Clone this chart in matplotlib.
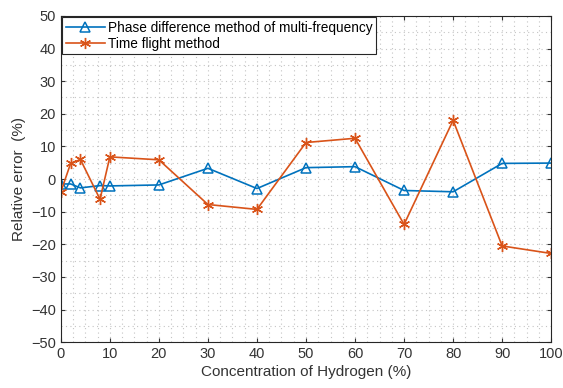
import numpy as np
import matplotlib
matplotlib.use("Agg")
import matplotlib.pyplot as plt
from matplotlib.ticker import MultipleLocator

plt.rcParams['font.family'] = ['Liberation Sans', 'DejaVu Sans']

# concentration (%) and relative error (%)
conc = [0, 2, 4, 8, 10, 20, 30, 40, 50, 60, 70, 80, 90, 100]
phase_err = [-1.5, -1.5, -2.7, -2.0, -2.1, -1.8, 3.3, -2.9, 3.5, 3.8, -3.5, -3.9, 4.8, 4.9]
tof_err = [-4.0, 4.8, 6.0, -6.2, 6.8, 5.9, -7.8, -9.3, 11.2, 12.5, -13.9, 18.0, -20.5, -22.8]

xticks = np.arange(0, 101, 10)
yticks = np.arange(-50, 51, 10)

blue = '#0072BD'
orange = '#D95319'
txt = '#333333'

fig = plt.figure(figsize=(5.63, 3.88), dpi=100)
ax = fig.add_axes([0.108, 0.118, 0.871, 0.841])

ax.plot(conc, phase_err, color=blue, lw=1.2, marker='^', ms=7, mfc='none', mew=1.1,
        label='Phase difference method of multi-frequency')
# MATLAB-like asterisk marker
ax.plot(conc, tof_err, color=orange, lw=1.2, marker=(6, 2, 0), ms=8, mew=1.0,
        label='Time flight method')

ax.set_xlim(0, 100)
ax.set_ylim(-50, 50)
ax.set_xticks(xticks)
ax.set_yticks(yticks)
ax.xaxis.set_minor_locator(MultipleLocator(2.5))
ax.yaxis.set_minor_locator(MultipleLocator(5))
ax.grid(which='both', ls=(0, (1, 3)), color='#c4c4c4', lw=0.8)
ax.set_axisbelow(True)
ax.tick_params(which='major', direction='in', length=3, top=True, right=True,
               labelsize=10.5, colors=txt, width=0.8)
ax.tick_params(which='minor', length=0)
for s in ax.spines.values():
    s.set_color('#262626')
    s.set_linewidth(0.8)

ax.set_xlabel('Concentration of Hydrogen (%)', fontsize=11, color=txt, labelpad=3)
ax.set_ylabel('Relative error  (%)', fontsize=11, color=txt, labelpad=4)

leg = ax.legend(loc='upper left', fontsize=9.8, handlelength=2.9, handletextpad=0.2,
                borderaxespad=0.1, borderpad=0.25, labelspacing=0.15, fancybox=False,
                framealpha=1, edgecolor='#262626')
leg.get_frame().set_linewidth(0.8)

fig.savefig('out.png', dpi=100)
